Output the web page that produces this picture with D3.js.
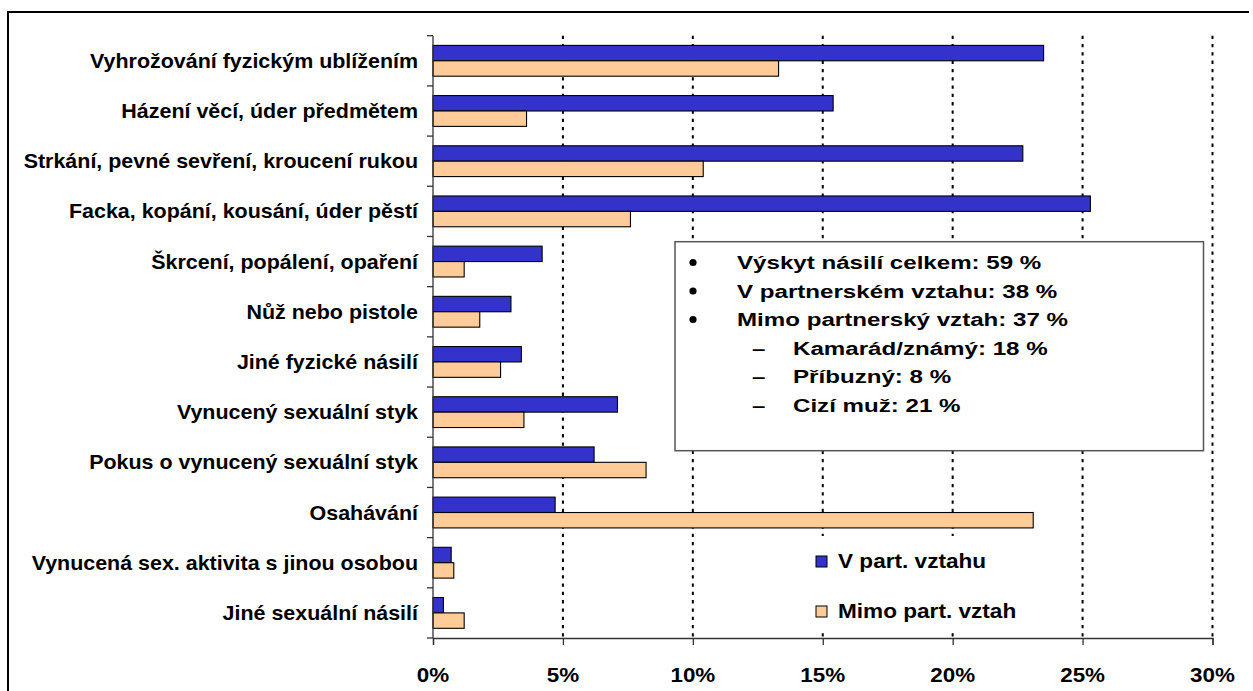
<!DOCTYPE html>
<html><head><meta charset="utf-8">
<script src="https://cdn.jsdelivr.net/npm/d3@7"></script>
<style>html,body{margin:0;padding:0;background:#fff;}svg{display:block;}</style>
</head><body>
<svg id="c" width="1253" height="691"></svg>
<script>
const categories = [
  "Vyhrožování fyzickým ublížením",
  "Házení věcí, úder předmětem",
  "Strkání, pevné sevření, kroucení rukou",
  "Facka, kopání, kousání, úder pěstí",
  "Škrcení, popálení, opaření",
  "Nůž nebo pistole",
  "Jiné fyzické násilí",
  "Vynucený sexuální styk",
  "Pokus o vynucený sexuální styk",
  "Osahávání",
  "Vynucená sex. aktivita s jinou osobou",
  "Jiné sexuální násilí"
];
const seriesNames = ["V part. vztahu", "Mimo part. vztah"];
const vPartVztahu = [23.5, 15.4, 22.7, 25.3, 4.2, 3.0, 3.4, 7.1, 6.2, 4.7, 0.7, 0.4];
const mimoPartVztah = [13.3, 3.6, 10.4, 7.6, 1.2, 1.8, 2.6, 3.5, 8.2, 23.1, 0.8, 1.2];
const xTicks = [0, 5, 10, 15, 20, 25, 30];
const boxLines = [
  {level: 0, text: "Výskyt násilí celkem: 59 %"},
  {level: 0, text: "V partnerském vztahu: 38 %"},
  {level: 0, text: "Mimo partnerský vztah: 37 %"},
  {level: 1, text: "Kamarád/známý: 18 %"},
  {level: 1, text: "Příbuzný: 8 %"},
  {level: 1, text: "Cizí muž: 21 %"}
];
const colors = ["#3333CC", "#FFCC99"];

const svg = d3.select("#c");
const FONT = "'Liberation Sans', Arial, sans-serif";

function stext(g, x, y, str, size, sx, anchor) {
  return g.append("text")
    .attr("transform", `translate(${x},${y}) scale(${sx},1)`)
    .attr("text-anchor", anchor || "start")
    .attr("font-family", FONT).attr("font-weight", "bold")
    .attr("font-size", size).attr("fill", "#000")
    .text(str);
}

// outer frame
svg.append("path").attr("d", "M8,700 L8,12 L1249,12")
  .attr("fill", "none").attr("stroke", "#000").attr("stroke-width", 2);

const x = d3.scaleLinear().domain([0, 30]).range([433, 1212.5]);
const y = d3.scaleBand().domain(categories).range([35.7, 638]).paddingInner(0).paddingOuter(0);
const step = y.step();
const barH = 15.4;
const off = (step - 2 * barH) / 2;

// gridlines
svg.append("g").selectAll("line").data(xTicks.filter(t => t > 0)).join("line")
  .attr("x1", d => x(d)).attr("x2", d => x(d))
  .attr("y1", 35.7).attr("y2", 638)
  .attr("stroke", "#000").attr("stroke-width", 2).attr("stroke-dasharray", "3.3,5");

// bars
const series = [vPartVztahu, mimoPartVztah];
series.forEach((vals, si) => {
  svg.append("g").selectAll("rect").data(categories).join("rect")
    .attr("x", x(0))
    .attr("y", (c) => y(c) + off + si * barH)
    .attr("width", (c, i) => x(vals[i]) - x(0))
    .attr("height", barH)
    .attr("fill", colors[si]).attr("stroke", "#000").attr("stroke-width", 1.1);
});

// x axis
const xAxis = svg.append("g").attr("transform", "translate(0,638)")
  .call(d3.axisBottom(x).tickValues(xTicks).tickSize(7).tickFormat(""));
xAxis.select(".domain").attr("stroke", "#333").attr("stroke-width", 1.3);
xAxis.selectAll(".tick line").attr("stroke", "#333").attr("stroke-width", 1.3);
xTicks.forEach(t => stext(svg, x(t), 681.5, t + "%", 20, 1.12, "middle"));

// y axis with ticks at band boundaries
const yAxisG = svg.append("g");
yAxisG.append("line").attr("x1", 433).attr("x2", 433).attr("y1", 35.7).attr("y2", 638)
  .attr("stroke", "#333").attr("stroke-width", 1.3);
const bounds = categories.map(c => y(c)).concat([y.range()[1]]);
yAxisG.selectAll("line.t").data(bounds).join("line").attr("class", "t")
  .attr("x1", 427).attr("x2", 433).attr("y1", d => d).attr("y2", d => d)
  .attr("stroke", "#333").attr("stroke-width", 1.3);
categories.forEach(c => stext(svg, 418, y(c) + step / 2 + 7, c, 19.5, 1.1, "end"));

// text box
const bx = svg.append("g");
bx.append("rect").attr("x", 675).attr("y", 241.7).attr("width", 528.5).attr("height", 209)
  .attr("fill", "#fff").attr("stroke", "#555").attr("stroke-width", 1.5);
boxLines.forEach((l, i) => {
  const by = 269 + i * 28.5;
  if (l.level === 0) {
    bx.append("circle").attr("cx", 693).attr("cy", by - 6.5).attr("r", 3.6).attr("fill", "#000");
    stext(bx, 737, by, l.text, 19, 1.27);
  } else {
    stext(bx, 752, by, "–", 19, 1.27);
    stext(bx, 793, by, l.text, 19, 1.27);
  }
});

// legend
const lg = svg.append("g");
lg.append("rect").attr("x", 806).attr("y", 536).attr("width", 222).attr("height", 96).attr("fill", "#fff");
seriesNames.forEach((n, i) => {
  const ly = 556 + i * 50;
  lg.append("rect").attr("x", 816).attr("y", ly).attr("width", 11).attr("height", 11)
    .attr("fill", colors[i]).attr("stroke", "#000").attr("stroke-width", 1);
  stext(lg, 838, ly + 12, n, 20, 1.13);
});
</script>
</body></html>
